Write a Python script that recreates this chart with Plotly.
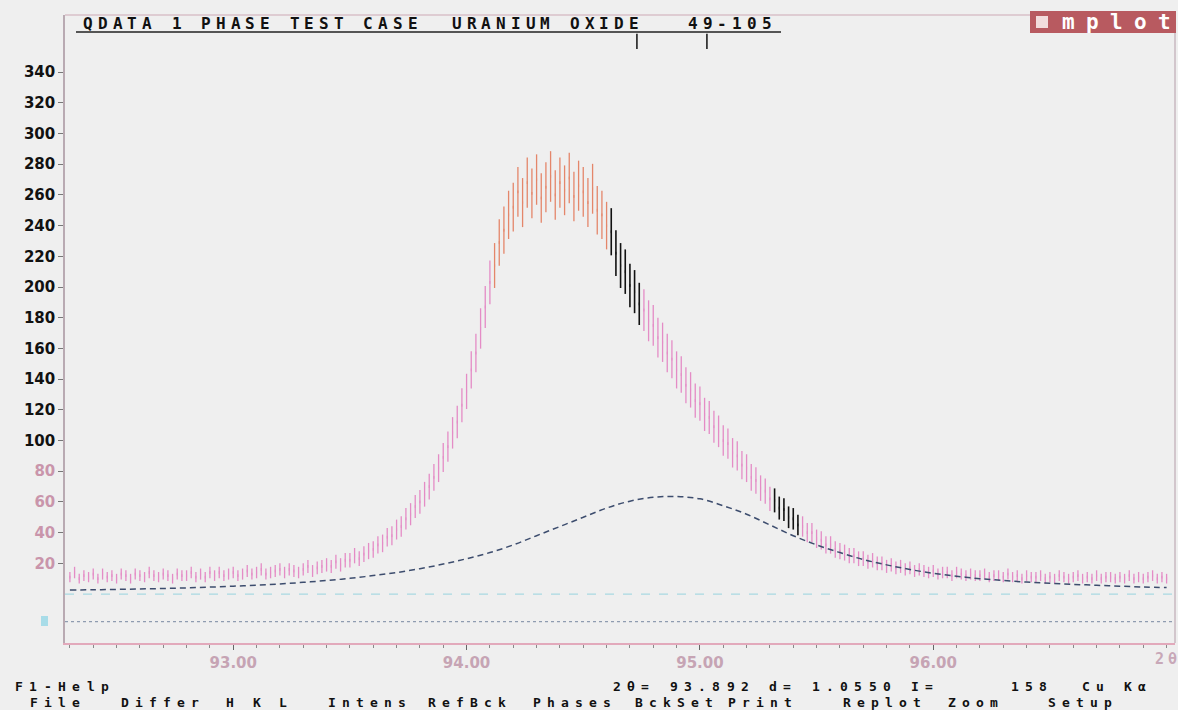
import numpy as np
import plotly.graph_objects as go

# ---------------------------------------------------------------- data
# Observed counts, 2-theta from 92.30 to 97.00 deg in 0.02 deg steps
TWO_THETA_START = 92.30
TWO_THETA_STEP = 0.02
OBS_COUNTS = [
    11, 14, 10, 12, 11,   13, 10, 13, 11, 12,   10, 13, 12, 10, 13,   12, 11, 14, 12, 11,
    13, 12, 10, 13, 12,   12, 14, 11, 13, 11,   14, 12, 14, 12, 13,   14, 12, 13, 15, 13,
    14, 16, 13, 14, 15,   16, 14, 16, 15, 14,   16, 18, 15, 17, 18,   19, 18, 21, 19, 22,
    22, 25, 23, 26, 28,   29, 32, 33, 37, 38,   42, 44, 49, 52, 57,   60, 65, 70, 76, 82,
    89, 96, 105, 112, 123, 132, 146, 157, 173, 187, 203, 214, 229, 237, 247,
    252, 262, 255, 268, 261,  270, 258, 265, 272, 260,  268, 263, 271, 259, 266,  262, 255, 264, 250, 247,
    240, 236, 222, 214, 210,  201, 197, 189, 185, 178,  175, 167, 164, 157, 153,  146, 143, 136, 133, 126,
    124, 117, 115, 109, 106,  100, 98, 92, 90, 84,   82, 76, 74, 69, 67,   62, 61, 56, 55, 50,
    49, 45, 44, 40, 40,   36, 35, 32, 32, 29,   28, 27, 25, 25, 23,   23, 21, 22, 20, 20,
    18, 19, 17, 18, 16,   17, 15, 16, 15, 14,   15, 13, 14, 14, 12,   14, 13, 12, 13, 12,
    12, 13, 11, 12, 12,   11, 13, 11, 12, 10,   12, 11, 11, 12, 10,   11, 10, 12, 11, 10,
    11, 12, 10, 11, 10,   12, 10, 11, 11, 10,   11, 10, 12, 10, 11,   10, 11, 12, 10, 11,
    10,
]
# Ranges of points picked out by the cursor (drawn in black)
PICKED_RANGES = [(94.61, 94.75), (95.31, 95.43)]
# Counts above this value near the peak top are drawn in orange
PEAK_TOP_LEVEL = 205

# Calculated profile (background + fitted component)
CALC_2THETA = [
    92.3, 92.4, 92.5, 92.6, 92.7, 92.8, 92.9, 93.0, 93.1, 93.2, 93.3, 93.4, 93.5, 93.6,
    93.7, 93.8, 93.9, 94.0, 94.1, 94.2, 94.3, 94.4, 94.5, 94.6, 94.7, 94.8, 94.9, 95.0,
    95.1, 95.2, 95.3, 95.4, 95.5, 95.6, 95.7, 95.8, 95.9, 96.0, 96.1, 96.2, 96.3, 96.4,
    96.5, 96.6, 96.7, 96.8, 96.9, 97.0,
]
CALC_COUNTS = [
    2.6, 2.8, 3.0, 3.3, 3.6, 4.0, 4.5, 5.1, 5.8, 6.6, 7.6, 8.8, 10.2, 12.0,
    14.0, 16.5, 19.5, 23.0, 27.0, 32.0, 38.0, 44.0, 50.0, 56.0, 60.5, 63.0, 63.5, 62.0,
    57.5, 52.0, 45.0, 38.0, 32.0, 27.0, 22.5, 19.0, 16.0, 13.5, 11.6, 10.0, 8.8, 7.8,
    7.0, 6.3, 5.7, 5.1, 4.6, 4.2,
]
# Reference pattern 49-105 line positions
REF_PEAKS = [94.73, 95.03]
REF_MARK_LEVEL = 360

Y_TICKS = [20, 40, 60, 80, 100, 120, 140, 160, 180, 200, 220, 240, 260, 280, 300, 320, 340]
X_TICKS = [93.0, 94.0, 95.0, 96.0]
X_RANGE = [92.279, 97.036]
Y_RANGE = [-31.9, 377.2]
DIFF_LEVEL = -18
ZERO_LEVEL = 0

TITLE = "QDATA 1 PHASE TEST CASE  URANIUM OXIDE   49-105"
STATUS_LEFT = "F1-Help"
STATUS_RIGHT = "2θ= 93.892 d= 1.0550 I=     158  Cu Kα"
MENU = [("File", 34), ("Differ", 125), ("H", 230), ("K", 257), ("L", 283),
        ("Intens", 332), ("RefBck", 432), ("Phases", 537), ("BckSet", 639),
        ("Print", 732), ("Replot", 847), ("Zoom", 952), ("Setup", 1052)]

# ---------------------------------------------------------------- page geometry
W, H = 1178, 710
ML, MR, MT, MB = 65, 3, 15, 67
PW, PH = W - ML - MR, H - MT - MB

BG = "#efefef"
PINK = "#e48cc6"
ORANGE = "#e4866a"
MONO = "DejaVu Sans Mono"


def px_to_paper(x, y):
    return (x - ML) / PW, (H - MB - y) / PH


# ---------------------------------------------------------------- traces
obs = np.array(OBS_COUNTS, dtype=float)
tt = np.round(TWO_THETA_START + TWO_THETA_STEP * np.arange(len(obs)), 3)
picked = np.zeros(len(obs), dtype=bool)
for lo, hi in PICKED_RANGES:
    picked |= (tt >= lo) & (tt <= hi)
top = (obs >= PEAK_TOP_LEVEL) & ~picked & (tt < PICKED_RANGES[0][0])
rest = ~picked & ~top

fig = go.Figure()


def add_counts(mask, color, width):
    fig.add_trace(go.Scatter(
        x=tt[mask], y=obs[mask], mode="markers",
        marker=dict(size=2, color=color, symbol="line-ns-open", line=dict(width=1, color=color)),
        error_y=dict(type="data", array=np.sqrt(obs[mask]), width=0, thickness=width, color=color),
        hoverinfo="x+y", showlegend=False,
    ))


add_counts(rest, PINK, 1.3)
add_counts(top, ORANGE, 1.3)
add_counts(picked, "#111111", 1.6)

# calculated profile
fig.add_trace(go.Scatter(
    x=CALC_2THETA, y=CALC_COUNTS, mode="lines",
    line=dict(color="#3d4d6e", width=1.5, dash="6px,4px", shape="spline"),
    showlegend=False, hoverinfo="skip",
))

# reference line markers under the title
fig.add_trace(go.Scatter(
    x=REF_PEAKS, y=[REF_MARK_LEVEL] * len(REF_PEAKS), mode="markers",
    marker=dict(symbol="line-ns-open", size=11, color="#111111",
                line=dict(width=1.5, color="#111111")),
    showlegend=False, hoverinfo="x",
))

# ---------------------------------------------------------------- shapes
shapes = [
    # zero level and difference baseline
    dict(type="line", xref="paper", yref="y", x0=0, x1=1, y0=ZERO_LEVEL, y1=ZERO_LEVEL,
         line=dict(color="#a9d9e2", width=1.2, dash="dash")),
    dict(type="line", xref="paper", yref="y", x0=0, x1=1, y0=DIFF_LEVEL, y1=DIFF_LEVEL,
         line=dict(color="#8f9cb0", width=1.2, dash="dot")),
    # frame: top and right edges
    dict(type="line", xref="paper", yref="paper", x0=0, x1=(1030 - ML) / PW, y0=1, y1=1,
         line=dict(color="#d8c0c8", width=1.5)),
    dict(type="line", xref="paper", yref="paper", x0=1, x1=1, y0=0, y1=px_to_paper(0, 32)[1],
         line=dict(color="#c8b8c0", width=1.5)),
    # title underline
    dict(type="line", xref="paper", yref="paper",
         x0=px_to_paper(76, 0)[0], x1=px_to_paper(781, 0)[0],
         y0=px_to_paper(0, 32)[1], y1=px_to_paper(0, 32)[1],
         line=dict(color="#222222", width=1.3)),
    # program badge
    dict(type="rect", xref="paper", yref="paper",
         x0=px_to_paper(1030, 0)[0], x1=px_to_paper(1176, 0)[0],
         y0=px_to_paper(0, 33)[1], y1=px_to_paper(0, 11)[1],
         fillcolor="#b85a60", line=dict(width=0)),
    dict(type="rect", xref="paper", yref="paper",
         x0=px_to_paper(1036, 0)[0], x1=px_to_paper(1048, 0)[0],
         y0=px_to_paper(0, 28)[1], y1=px_to_paper(0, 16)[1],
         fillcolor="#f2dcdc", line=dict(width=0)),
    # difference-curve key at the left
    dict(type="rect", xref="paper", yref="paper",
         x0=px_to_paper(41, 0)[0], x1=px_to_paper(48, 0)[0],
         y0=px_to_paper(0, 626)[1], y1=px_to_paper(0, 616)[1],
         fillcolor="#a8dce8", line=dict(width=0)),
]

# ---------------------------------------------------------------- text (fixed-pitch screen font)
annotations = []


def screen_text(text, x_first, y, pitch, size=15, color="#111111"):
    for i, ch in enumerate(text):
        if ch == " ":
            continue
        px, py = px_to_paper(x_first + i * pitch, y)
        annotations.append(dict(
            x=px, y=py, xref="paper", yref="paper", text=ch, showarrow=False,
            xanchor="center", yanchor="middle", borderpad=0,
            font=dict(family=MONO, size=size, color=color, weight="bold"),
        ))


screen_text(TITLE, 88, 23, 14.75, size=16)
screen_text("mplot", 1068, 22, 24, size=21, color="#ffffff")
screen_text(STATUS_LEFT, 19, 686, 14.3, size=13)
screen_text(STATUS_RIGHT, 617, 686, 14.2, size=13)
for word, x0 in MENU:
    screen_text(word, x0, 702, 14.0, size=13)
screen_text("2θ", 1159, 659, 13, size=15, color="#c8a8b8")

# ---------------------------------------------------------------- axes
y_text = []
for v in Y_TICKS:
    c = "#111111" if v >= 100 else "#c995ab"
    y_text.append(f"<span style='color:{c}'>{v}</span>")

fig.update_layout(
    width=W, height=H,
    margin=dict(l=ML, r=MR, t=MT, b=MB, pad=0),
    paper_bgcolor=BG, plot_bgcolor=BG,
    shapes=shapes, annotations=annotations,
    xaxis=dict(
        range=X_RANGE, tickvals=X_TICKS, ticktext=[f"{v:.2f}" for v in X_TICKS],
        showgrid=False, zeroline=False, showline=True, linecolor="#e2a9bb", linewidth=2,
        ticks="outside", ticklen=5, tickcolor="#666666", tickwidth=1,
        minor=dict(dtick=0.1, ticks="outside", ticklen=3, tickcolor="#8a8a8a", showgrid=False),
        tickfont=dict(family="DejaVu Sans", size=15, color="#c6a4b4", weight="bold"),
    ),
    yaxis=dict(
        range=Y_RANGE, tickvals=Y_TICKS, ticktext=y_text,
        showgrid=False, zeroline=False, showline=True, linecolor="#b9aab2", linewidth=1.5,
        ticks="outside", ticklen=5, tickcolor="#777777", tickwidth=1,
        tickfont=dict(family="DejaVu Sans", size=15, color="#111111", weight="bold"),
    ),
)

fig.write_html("out.html")
